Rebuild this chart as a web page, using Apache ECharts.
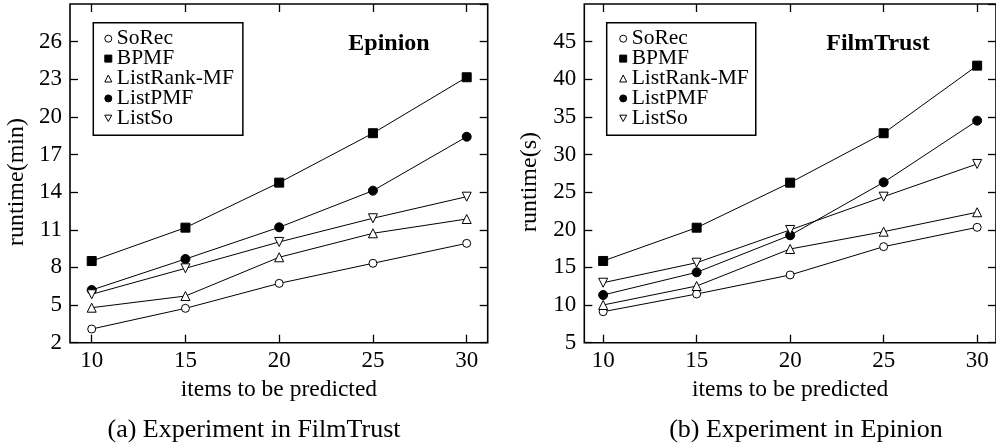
<!DOCTYPE html>
<html>
<head>
<meta charset="utf-8">
<script src="https://cdn.jsdelivr.net/npm/echarts@6/dist/echarts.min.js"></script>
<style>
html,body{margin:0;padding:0;background:#fff;}
#chart{width:996px;height:445px;}
</style>
</head>
<body>
<div id="chart"></div>
<script>
// ---- data ----
const items = [10, 15, 20, 25, 30];
const seriesNames = ['SoRec', 'BPMF', 'ListRank-MF', 'ListPMF', 'ListSo'];

// panel (a): Epinion, runtime (min)
const epSoRec    = [3.09, 4.74, 6.73, 8.33, 9.92];
const epBPMF     = [8.51, 11.17, 14.76, 18.70, 23.16];
const epListRank = [4.79, 5.72, 8.81, 10.72, 11.86];
const epListPMF  = [6.20, 8.67, 11.20, 14.12, 18.42];
const epListSo   = [5.86, 7.93, 10.03, 11.92, 13.64];

// panel (b): FilmTrust, runtime (s)
const ftSoRec    = [9.12, 11.47, 14.00, 17.76, 20.33];
const ftBPMF     = [15.86, 20.28, 26.26, 32.83, 41.81];
const ftListRank = [10.01, 12.53, 17.45, 19.75, 22.33];
const ftListPMF  = [11.34, 14.35, 19.27, 26.31, 34.50];
const ftListSo   = [12.97, 15.63, 19.98, 24.40, 28.75];

const epValues = [epSoRec, epBPMF, epListRank, epListPMF, epListSo];
const ftValues = [ftSoRec, ftBPMF, ftListRank, ftListPMF, ftListSo];

// ---- styling ----
const FONT = '"Liberation Serif", "Times New Roman", serif';
const styles = {
  'SoRec':       {symbol: 'circle',   rotate: 0,   size: 8, fill: '#fff', icon: 'circle'},
  'BPMF':        {symbol: 'rect',     rotate: 0,   size: 9, fill: '#000', icon: 'rect'},
  'ListRank-MF': {symbol: 'triangle', rotate: 0,   size: 9, fill: '#fff', icon: 'triangle'},
  'ListPMF':     {symbol: 'circle',   rotate: 0,   size: 9, fill: '#000', icon: 'circle'},
  'ListSo':      {symbol: 'triangle', rotate: 180, size: 9, fill: '#fff', icon: 'path://M0,0L10,0L5,9Z'}
};

function makeSeries(values, xi, yi) {
  return seriesNames.map((name, k) => {
    const st = styles[name];
    return {
      name: name,
      type: 'line',
      xAxisIndex: xi,
      yAxisIndex: yi,
      data: items.map((x, i) => [x, values[k][i]]),
      symbol: st.symbol,
      symbolRotate: st.rotate,
      symbolSize: st.size,
      showAllSymbol: true,
      lineStyle: {color: '#000', width: 1},
      itemStyle: {color: st.fill, borderColor: '#000', borderWidth: 1},
      emphasis: {disabled: true},
      z: 3
    };
  });
}

function legendData() {
  return seriesNames.map(name => {
    const st = styles[name];
    return {
      name: name,
      icon: st.icon,
      itemStyle: {color: st.fill, borderColor: '#000', borderWidth: 1}
    };
  });
}

function xAxisPair(gi, min, max) {
  const base = {
    type: 'value', gridIndex: gi, min: min, max: max,
    axisLine: {show: false},
    splitLine: {show: false},
    axisTick: {show: true, inside: true, length: 8, customValues: items,
               lineStyle: {color: '#000', width: 1.3}}
  };
  return [
    Object.assign({}, base, {
      position: 'bottom',
      axisLabel: {show: true, customValues: items, margin: 7,
                  fontSize: 23, fontFamily: FONT, color: '#000'},
      name: 'items to be predicted', nameLocation: 'middle', nameGap: 28,
      nameTextStyle: {fontSize: 23.5, fontFamily: FONT, color: '#000'}
    }),
    Object.assign({}, base, {position: 'top', axisLabel: {show: false}})
  ];
}

function yAxisPair(gi, min, max, interval) {
  const base = {
    type: 'value', gridIndex: gi, min: min, max: max, interval: interval,
    axisLine: {show: false},
    splitLine: {show: false},
    axisTick: {show: true, inside: true, length: 8,
               lineStyle: {color: '#000', width: 1.3}}
  };
  return [
    Object.assign({}, base, {
      position: 'left',
      axisLabel: {show: true, showMaxLabel: false, margin: 8,
                  fontSize: 23, fontFamily: FONT, color: '#000'}
    }),
    Object.assign({}, base, {position: 'right', axisLabel: {show: false}})
  ];
}

const chart = echarts.init(document.getElementById('chart'), null, {renderer: 'canvas'});

const option = {
  animation: false,
  backgroundColor: '#fff',
  grid: [
    {left: 70, top: 4, width: 417.7, height: 338.7, show: true,
     borderColor: '#000', borderWidth: 1.6, backgroundColor: 'transparent', containLabel: false},
    {left: 584.3, top: 4, width: 415, height: 338.7, show: true,
     borderColor: '#000', borderWidth: 1.6, backgroundColor: 'transparent', containLabel: false}
  ],
  xAxis: [].concat(xAxisPair(0, 8.843, 31.12), xAxisPair(1, 8.992, 31.008)),
  yAxis: [].concat(yAxisPair(0, 2, 29, 3), yAxisPair(1, 5, 50, 5)),
  legend: [
    {
      orient: 'vertical', left: 93.3, top: 22.7,
      padding: [5, 9, 6, 11],
      itemWidth: 7, itemHeight: 7, itemGap: -2.1, itemTextGap: 5,
      borderColor: '#000', borderWidth: 1.5, backgroundColor: '#fff',
      selectedMode: false,
      textStyle: {fontSize: 21.5, fontFamily: FONT, color: '#000'},
      data: legendData()
    },
    {
      orient: 'vertical', left: 606.7, top: 22.7,
      padding: [5, 7, 6, 12.5],
      itemWidth: 7, itemHeight: 7, itemGap: -2.1, itemTextGap: 5,
      borderColor: '#000', borderWidth: 1.5, backgroundColor: '#fff',
      selectedMode: false,
      textStyle: {fontSize: 21.5, fontFamily: FONT, color: '#000'},
      data: legendData()
    }
  ],
  title: [
    {text: 'Epinion', left: 389, top: 32, padding: 0, textAlign: 'center',
     textStyle: {fontSize: 24, fontWeight: 'bold', fontFamily: FONT, color: '#000'}},
    {text: 'FilmTrust', left: 878, top: 32, padding: 0, textAlign: 'center',
     textStyle: {fontSize: 24, fontWeight: 'bold', fontFamily: FONT, color: '#000'}},
    {text: '(a) Experiment in FilmTrust', left: 254, top: 417, padding: 0, textAlign: 'center',
     textStyle: {fontSize: 26, fontWeight: 'normal', fontFamily: FONT, color: '#000'}},
    {text: '(b) Experiment in Epinion', left: 806, top: 417, padding: 0, textAlign: 'center',
     textStyle: {fontSize: 26, fontWeight: 'normal', fontFamily: FONT, color: '#000'}}
  ],
  graphic: [
    {type: 'text', x: 17, y: 182, rotation: Math.PI / 2,
     style: {text: 'runtime(min)', align: 'center', verticalAlign: 'middle',
             font: '24px ' + FONT, fill: '#000'}},
    {type: 'text', x: 530, y: 182, rotation: Math.PI / 2,
     style: {text: 'runtime(s)', align: 'center', verticalAlign: 'middle',
             font: '24px ' + FONT, fill: '#000'}}
  ],
  series: [].concat(makeSeries(epValues, 0, 0), makeSeries(ftValues, 2, 2))
};

chart.setOption(option);
</script>
</body>
</html>
